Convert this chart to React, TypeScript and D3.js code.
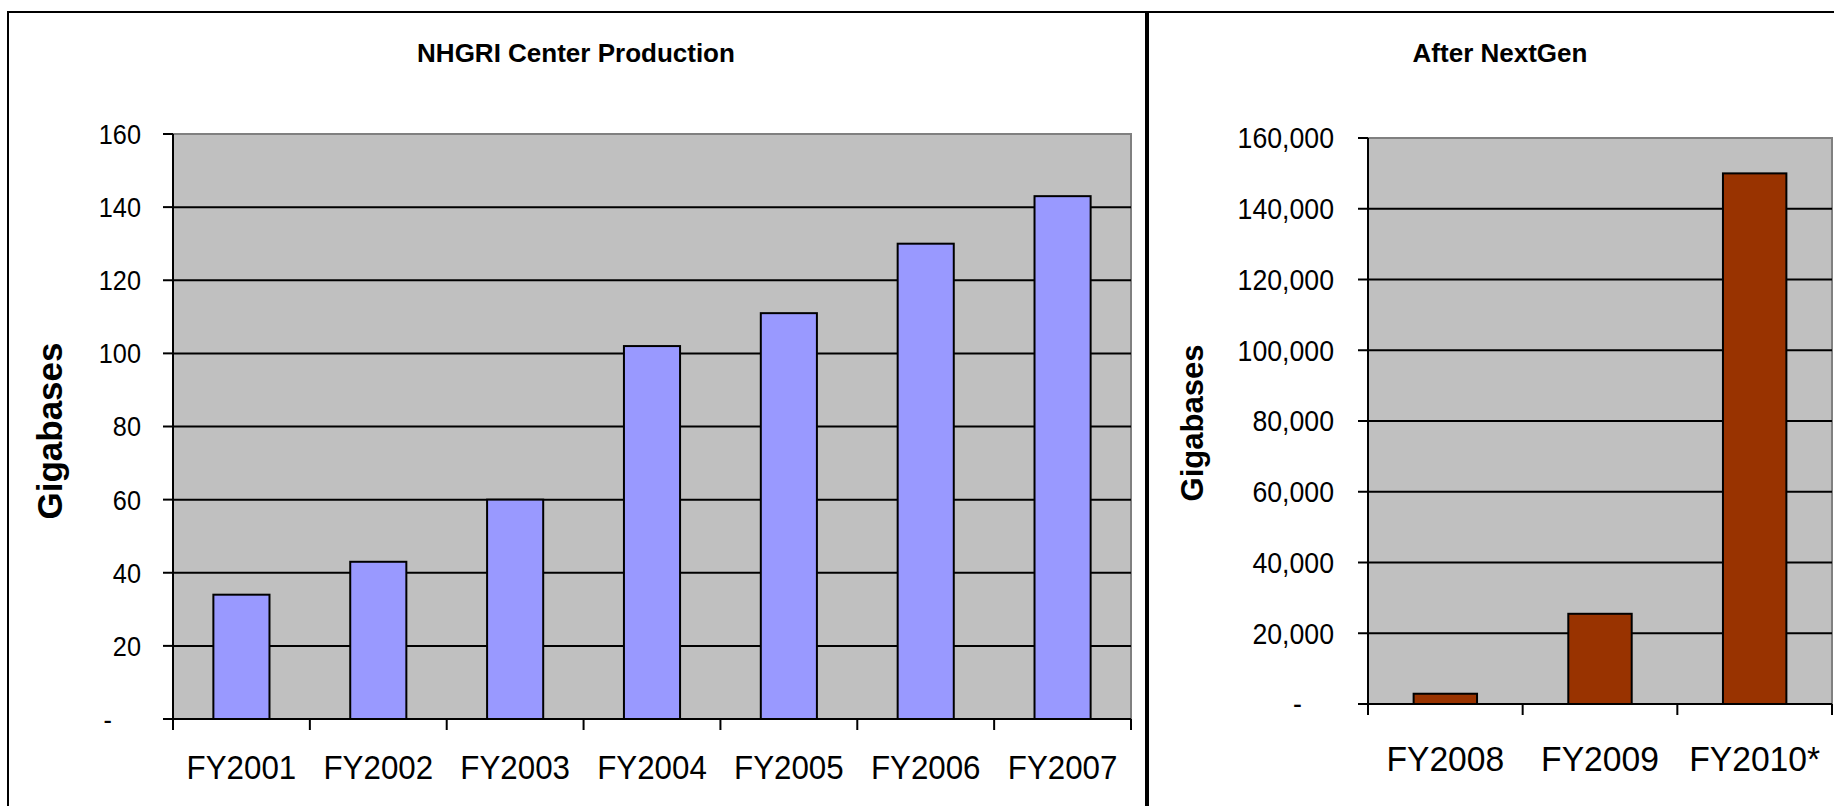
import * as d3 from "d3";

// left chart: NHGRI center production (gigabases)
const leftCategories = ["FY2001", "FY2002", "FY2003", "FY2004", "FY2005", "FY2006", "FY2007"];
const leftValues = [34, 43, 60, 102, 111, 130, 143];
const leftTicks = [0, 20, 40, 60, 80, 100, 120, 140, 160];

// right chart: after NextGen
const rightCategories = ["FY2008", "FY2009", "FY2010*"];
const rightValues = [2900, 25500, 150000];
const rightTicks = [0, 20000, 40000, 60000, 80000, 100000, 120000, 140000, 160000];

const FONT = "'Liberation Sans', Arial, sans-serif";

type PanelProps = {
  title: string;
  titleX: number;
  categories: string[];
  values: number[];
  ticks: number[];
  x0: number;
  x1: number;
  yTop: number;
  yZero: number;
  fill: string;
  fmt: (v: number) => string;
  tickFont: number;
  labelRight: number;
  dashRight: number;
  catFont: number;
  catBaseline: number;
  axisTitleX: number;
  axisTitleY: number;
  axisTitleFont: number;
};

// the source labels are slightly condensed, so squeeze them horizontally
const SQUEEZE = 0.92;

function Panel(p: PanelProps) {
  const x = d3.scaleBand<string>()
    .domain(p.categories)
    .range([p.x0, p.x1])
    .paddingInner(0.59)
    .paddingOuter(0.295);
  const y = d3.scaleLinear()
    .domain([0, p.ticks[p.ticks.length - 1]])
    .range([p.yZero, p.yTop]);
  const step = x.step();
  const bounds = d3.range(p.categories.length + 1).map(i => p.x0 + i * step);

  return (
    <g>
      {/* plot area */}
      <rect x={p.x0} y={p.yTop} width={p.x1 - p.x0} height={p.yZero - p.yTop} fill="#C0C0C0" />
      <path d={`M${p.x0},${p.yTop}H${p.x1}V${p.yZero}`} fill="none" stroke="#808080" strokeWidth={2} />

      {/* gridlines */}
      {p.ticks.slice(1, -1).map(t => (
        <line key={t} x1={p.x0} x2={p.x1} y1={y(t)} y2={y(t)} stroke="#000" strokeWidth={2} />
      ))}

      {/* bars */}
      {p.categories.map((c, i) => (
        <rect key={c} x={x(c)} y={y(p.values[i])} width={x.bandwidth()}
          height={p.yZero - y(p.values[i])} fill={p.fill} stroke="#000" strokeWidth={2} />
      ))}

      {/* axes */}
      <line x1={p.x0} x2={p.x0} y1={p.yTop} y2={p.yZero} stroke="#000" strokeWidth={2} />
      <line x1={p.x0} x2={p.x1} y1={p.yZero} y2={p.yZero} stroke="#000" strokeWidth={2} />
      {p.ticks.map(t => (
        <g key={t}>
          <line x1={p.x0 - 10} x2={p.x0} y1={y(t)} y2={y(t)} stroke="#000" strokeWidth={2} />
          <text transform={`translate(${t === 0 ? p.dashRight : p.labelRight},${y(t)}) scale(${SQUEEZE},1)`}
            dy="0.36em" textAnchor="end"
            fontSize={p.tickFont} fontFamily={FONT} fill="#000">
            {t === 0 ? "-" : p.fmt(t)}
          </text>
        </g>
      ))}
      {bounds.map((b, i) => (
        <line key={i} x1={b} x2={b} y1={p.yZero} y2={p.yZero + 11} stroke="#000" strokeWidth={2} />
      ))}
      {p.categories.map(c => (
        <text key={c}
          transform={`translate(${(x(c) ?? 0) + x.bandwidth() / 2},${p.catBaseline}) scale(${SQUEEZE + 0.015},1)`}
          textAnchor="middle"
          fontSize={p.catFont} fontFamily={FONT} fill="#000">{c}</text>
      ))}

      {/* titles */}
      <text x={p.titleX} y={62} textAnchor="middle" fontSize={26} fontWeight="bold"
        fontFamily={FONT} fill="#000">{p.title}</text>
      <text transform={`translate(${p.axisTitleX},${p.axisTitleY}) rotate(-90)`} textAnchor="middle"
        fontSize={p.axisTitleFont} fontWeight="bold" fontFamily={FONT} fill="#000">Gigabases</text>
    </g>
  );
}

export default function App() {
  return (
    <div style={{ position: "absolute", left: 0, top: 0 }}>
      <svg width={1834} height={806} style={{ display: "block", background: "#fff" }}>
        <rect x={8} y={12} width={1138} height={900} fill="#fff" stroke="#000" strokeWidth={2} />
        <rect x={1148} y={12} width={800} height={900} fill="#fff" stroke="#000" strokeWidth={2} />
        <Panel
          title="NHGRI Center Production" titleX={576}
          categories={leftCategories} values={leftValues} ticks={leftTicks}
          x0={173} x1={1131} yTop={134} yZero={719} fill="#9999FF"
          fmt={d3.format("d")} tickFont={27.5} labelRight={141} dashRight={112}
          catFont={33.5} catBaseline={779}
          axisTitleX={62} axisTitleY={431} axisTitleFont={35}
        />
        <Panel
          title="After NextGen" titleX={1500}
          categories={rightCategories} values={rightValues} ticks={rightTicks}
          x0={1368} x1={1832} yTop={138} yZero={704} fill="#993300"
          fmt={d3.format(",")} tickFont={29} labelRight={1334} dashRight={1302}
          catFont={36} catBaseline={771}
          axisTitleX={1203} axisTitleY={423} axisTitleFont={31}
        />
      </svg>
    </div>
  );
}
